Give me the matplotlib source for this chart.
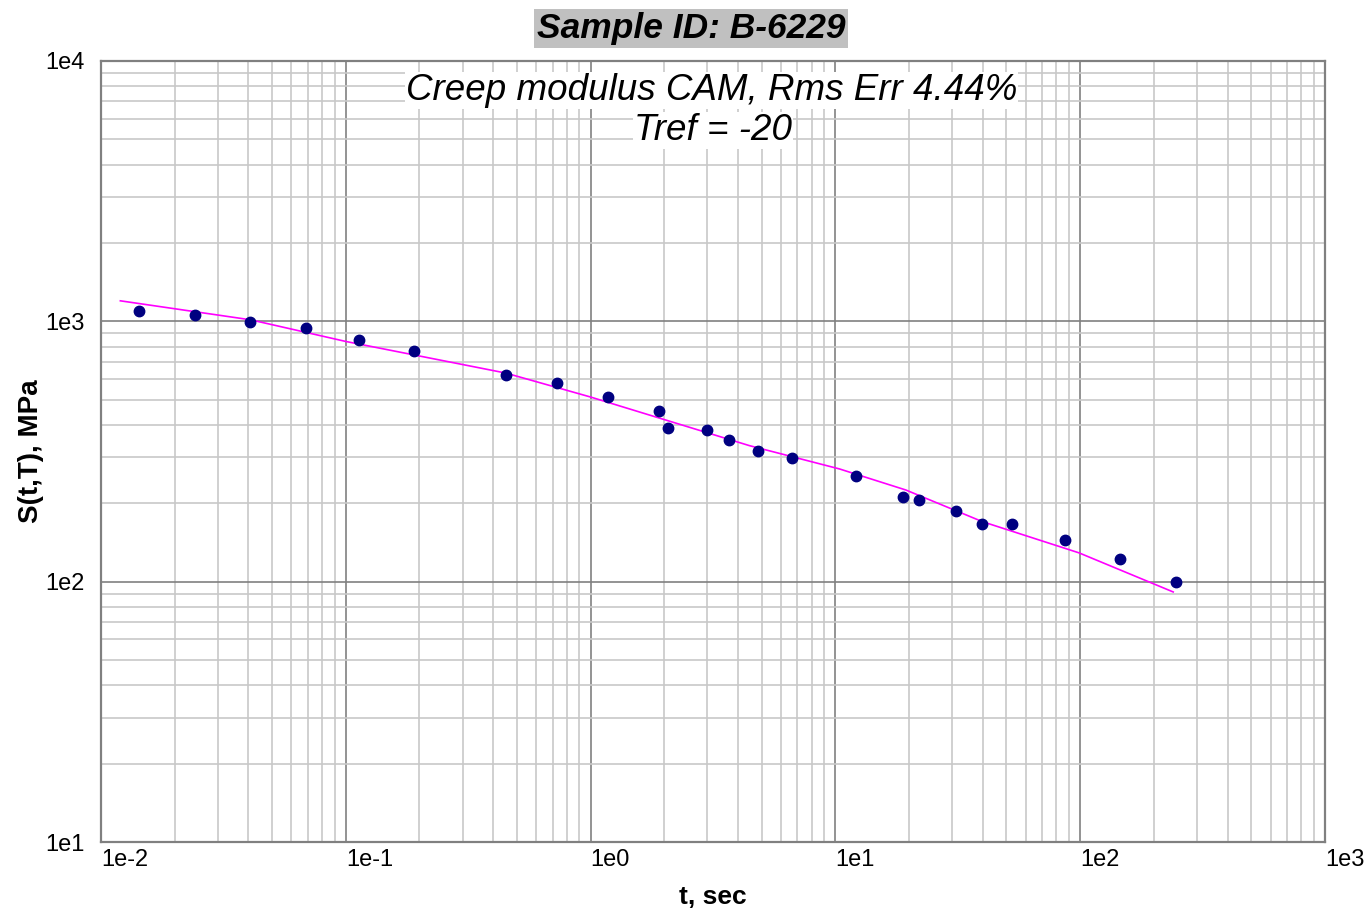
import matplotlib
matplotlib.use('Agg')
import matplotlib.pyplot as plt
from matplotlib.ticker import LogLocator, FixedLocator, NullFormatter

plt.rcParams['font.family'] = ['Liberation Sans', 'DejaVu Sans']

# measured creep stiffness, reduced time
t_data = [0.0143, 0.0242, 0.0408, 0.0687, 0.113, 0.190, 0.450, 0.728, 1.18, 1.90,
          2.07, 2.99, 3.69, 4.82, 6.66, 12.2, 18.9, 22.0, 31.1, 39.6,
          52.5, 86.5, 146, 246]
s_data = [1100, 1059, 998, 942, 849, 771, 623, 579, 510, 451,
          389, 381, 351, 318, 298, 255, 211, 206, 187, 166,
          166, 144, 122, 99.4]

# CAM model curve
t_fit = [0.012, 0.041, 0.1, 0.45, 1.0, 4.46, 10.4, 19.4, 39.9, 99, 240]
s_fit = [1199, 1013, 837, 633, 512, 333, 271, 225, 170, 129, 91.3]

x_ticks = [1e-2, 1e-1, 1e0, 1e1, 1e2, 1e3]
x_labels = ['1e-2', '1e-1', '1e0', '1e1', '1e2', '1e3']
y_ticks = [1e1, 1e2, 1e3, 1e4]
y_labels = ['1e1', '1e2', '1e3', '1e4']

fig = plt.figure(figsize=(13.7, 9.09), dpi=100)
ax = fig.add_axes([0.0737, 0.0737, 0.8934, 0.8592])
ax.set_xscale('log')
ax.set_yscale('log')
ax.set_xlim(1e-2, 1e3)
ax.set_ylim(1e1, 1e4)

ax.xaxis.set_major_locator(FixedLocator(x_ticks))
ax.yaxis.set_major_locator(FixedLocator(y_ticks))
ax.set_xticklabels(x_labels, ha='left')
ax.set_yticklabels(y_labels)
ax.xaxis.set_minor_locator(LogLocator(base=10, subs=range(2, 10), numticks=20))
ax.yaxis.set_minor_locator(LogLocator(base=10, subs=range(2, 10), numticks=20))
ax.xaxis.set_minor_formatter(NullFormatter())
ax.yaxis.set_minor_formatter(NullFormatter())
ax.tick_params(which='both', length=0)
ax.tick_params(axis='x', labelsize=17, pad=5)
ax.tick_params(axis='y', labelsize=17, pad=12)

ax.grid(which='major', color='#808080', linewidth=1.2)
ax.grid(which='minor', color='#c8c8c8', linewidth=1.2)
ax.set_axisbelow(True)
for sp in ax.spines.values():
    sp.set_color('#808080')
    sp.set_linewidth(1.6)

ax.plot(t_fit, s_fit, color='#ff00ff', linewidth=1.2, zorder=3)
ax.plot(t_data, s_data, 'o', color='#000080', markersize=7.5, zorder=4)

ax.set_xlabel('t, sec', fontsize=19, fontweight='bold', labelpad=10)
ax.set_ylabel('S(t,T), MPa', fontsize=20, fontweight='bold', labelpad=1)

fig.text(0.5044, 0.969, 'Sample ID: B-6229', ha='center', va='center',
         fontsize=25.5, fontweight='bold', style='italic',
         bbox=dict(facecolor='#c0c0c0', edgecolor='none', pad=2))
ax.text(0.499, 0.962, 'Creep modulus CAM, Rms Err 4.44%', transform=ax.transAxes,
        ha='center', va='center', fontsize=26.5, style='italic', zorder=5,
        bbox=dict(facecolor='white', edgecolor='none', pad=0.5))
ax.text(0.50, 0.911, 'Tref = -20', transform=ax.transAxes,
        ha='center', va='center', fontsize=26.5, style='italic', zorder=5,
        bbox=dict(facecolor='white', edgecolor='none', pad=0.5))

fig.savefig('out.png', dpi=100)
